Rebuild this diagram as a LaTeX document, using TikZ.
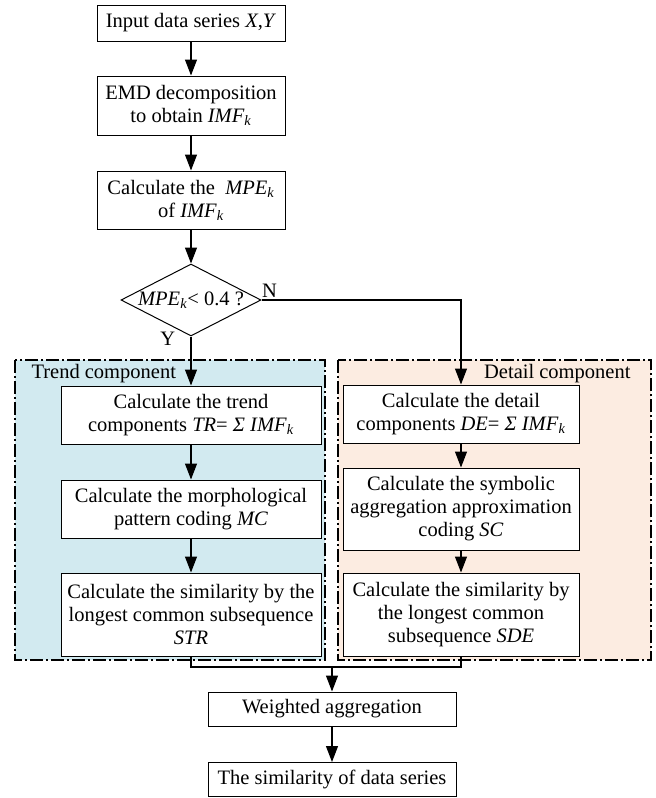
\documentclass[tikz,border=0pt]{standalone}
\usepackage{fontspec}
\setmainfont{Liberation Serif}
\usetikzlibrary{arrows.meta,shapes.geometric}

\definecolor{trendfill}{RGB}{210,234,240}
\definecolor{detailfill}{RGB}{252,236,225}
\newcommand{\idx}[1]{\textsubscript{\textit{#1}}}

\tikzset{
  box/.style={draw, line width=1pt, fill=white, align=center, inner sep=0pt},
  arr/.style={-{Triangle[length=16pt,width=12pt]}, line width=1.2pt},
  link/.style={line width=1.2pt},
  region/.style={line width=1.6pt, dash pattern=on 13pt off 3pt on 2pt off 3pt}
}

\begin{document}
\begin{tikzpicture}[x=1pt, y=-1pt, font=\fontsize{20.5}{23}\selectfont]
  \useasboundingbox (0,0) rectangle (656,798);

  % --- zone di sfondo ---
  \filldraw[region, fill=trendfill] (15,360) rectangle (325,660);
  \filldraw[region, fill=detailfill] (338,360) rectangle (651,660);
  \node[anchor=west] (trendlbl) at (28,374) {Trend component};
  \node[anchor=east] (detaillbl) at (634,374) {Detail component};

  % --- parte comune ---
  \node[box, minimum width=188pt, minimum height=36pt] (input) at (191,23)
    {Input data series \textit{X},\textit{Y}};
  \node[box, minimum width=188pt, minimum height=59pt] (emd) at (191,105.5)
    {EMD decomposition\\to obtain \textit{IMF}\idx{k}};
  \node[box, minimum width=188pt, minimum height=58pt] (mpe) at (191,200)
    {Calculate the \ \textit{MPE}\idx{k}\\of \textit{IMF}\idx{k}};
  \node[draw, line width=1pt, diamond, inner sep=0pt, minimum width=140pt,
    minimum height=72pt] (test) at (191,300)
    {\makebox[0pt]{\textit{MPE}\idx{k}< 0.4 ?}};

  % --- ramo trend ---
  \node[box, minimum width=260pt, minimum height=58pt] (trend) at (191,415)
    {Calculate the trend\\components \textit{TR}= \textit{Σ IMF}\idx{k}};
  \node[box, minimum width=260pt, minimum height=58pt] (mc) at (191,509)
    {Calculate the morphological\\pattern coding \textit{MC}};
  \node[box, minimum width=260pt, minimum height=83pt] (str) at (191,614.5)
    {Calculate the similarity by the\\longest common subsequence\\\textit{STR}};

  % --- ramo detail ---
  \node[box, minimum width=236pt, minimum height=58pt] (detail) at (461,414)
    {Calculate the detail\\components \textit{DE}= \textit{Σ IMF}\idx{k}};
  \node[box, minimum width=236pt, minimum height=82pt] (sc) at (461,509)
    {Calculate the symbolic\\aggregation approximation\\coding \textit{SC}};
  \node[box, minimum width=236pt, minimum height=83pt] (sde) at (461,614.5)
    {Calculate the similarity by\\the longest common\\subsequence \textit{SDE}};

  % --- uscita ---
  \node[box, minimum width=248pt, minimum height=34pt] (weight) at (332,709)
    {Weighted aggregation};
  \node[box, minimum width=248pt, minimum height=34pt] (result) at (332,779.5)
    {The similarity of data series};
  \coordinate (merge) at (332,667);

  % --- frecce ---
  \draw[arr] (input) -- (emd);
  \draw[arr] (emd) -- (mpe);
  \draw[arr] (mpe) -- (test);
  \draw[arr] (test.south) -- (trend)
    node[pos=0.05, left=12pt] (yes) {Y};
  \draw[arr] (test.east) -| (detail)
    node[pos=0.02, above=-1pt] (no) {N};
  \draw[arr] (trend) -- (mc);
  \draw[arr] (mc) -- (str);
  \draw[arr] (detail) -- (sc);
  \draw[arr] (sc) -- (sde);
  \draw[link] (str.south) |- (merge) -| (sde.south);
  \draw[arr] (merge) -- (weight);
  \draw[arr] (weight) -- (result);

\end{tikzpicture}
\end{document}
